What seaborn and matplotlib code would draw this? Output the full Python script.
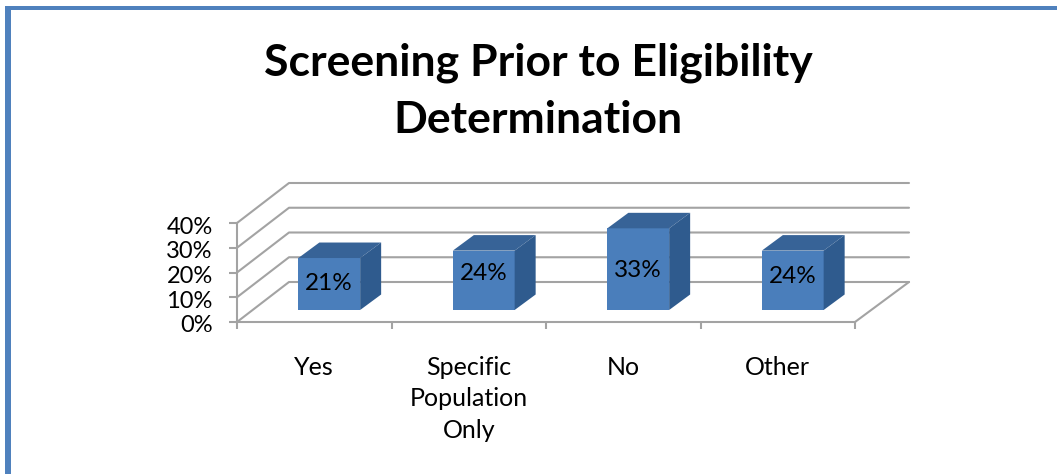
import matplotlib
matplotlib.use('Agg')
import matplotlib.pyplot as plt
import pandas as pd
import seaborn as sns
from matplotlib.patches import Polygon, Rectangle
from matplotlib.transforms import ScaledTranslation

# data
categories = ['Yes', 'Specific\nPopulation\nOnly', 'No', 'Other']
values = [21, 24, 33, 24]
value_labels = ['21%', '24%', '33%', '24%']
y_ticks = [0, 10, 20, 30, 40]

W, H = 1057, 474
sns.set_style('white')
plt.rcParams['font.family'] = ['Lato', 'DejaVu Sans']

df = pd.DataFrame({'category': categories, 'value': values})

fig = plt.figure(figsize=(W / 100, H / 100), dpi=100, facecolor='white')
ax = fig.add_axes([237 / W, 1 - 322 / H, 618 / W, 99 / H])
ax.patch.set_alpha(0)

sns.barplot(data=df, x='category', y='value', color='#4a7ebb', saturation=1,
            width=0.4, linewidth=0, ax=ax, zorder=3)
ax.set_xlim(-0.5, 3.5)
ax.set_ylim(0, 40)

# pixels to data units
px_x = 4 / 618
px_y = 40 / 99
wall_dx, wall_dy = 52 * px_x, 40 * px_y
right_end = 3.5 + 54 * px_x
bar_dx, bar_dy = 21 * px_x, 15.5 * px_y
shift_x, shift_y = 15 * px_x, 12 * px_y

grid_col = '#a3a3a3'
for v in y_ticks:
    ax.plot([-0.5, -0.5 + wall_dx, right_end], [v, v + wall_dy, v + wall_dy],
            color=grid_col, lw=1.5, clip_on=False, zorder=1)
# right edge of the floor
ax.plot([3.5, right_end], [0, wall_dy], color=grid_col, lw=1.5, clip_on=False, zorder=1)

# move the front faces into the floor and add top + side
for patch in ax.patches:
    patch.set_x(patch.get_x() + shift_x)
    patch.set_y(patch.get_y() + shift_y)
    x0, y0 = patch.get_x(), patch.get_y()
    x1, y1 = x0 + patch.get_width(), y0 + patch.get_height()
    ax.add_patch(Polygon([(x0, y1), (x1, y1), (x1 + bar_dx, y1 + bar_dy), (x0 + bar_dx, y1 + bar_dy)],
                         facecolor='#376397', edgecolor='none', clip_on=False, zorder=3))
    ax.add_patch(Polygon([(x1, y0), (x1 + bar_dx, y0 + bar_dy), (x1 + bar_dx, y1 + bar_dy), (x1, y1)],
                         facecolor='#2f5b8e', edgecolor='none', clip_on=False, zorder=3))

# labels sit a bit unevenly in the original
label_nudge = [2, 8, 0, 5]
for patch, lab, nudge in zip(list(ax.patches)[:4], value_labels, label_nudge):
    ax.text(patch.get_x() + patch.get_width() / 2,
            patch.get_y() + patch.get_height() / 2 + nudge * px_y - 1 * px_y, lab,
            ha='center', va='center', fontsize=17.5, color='black', zorder=5)

# axes
sns.despine(ax=ax, top=True, right=True)
for side in ['left', 'bottom']:
    ax.spines[side].set_color(grid_col)
    ax.spines[side].set_linewidth(1.5)
    ax.spines[side].set_zorder(2)

ax.set_yticks(y_ticks)
ax.set_yticklabels([f'{v}%' for v in y_ticks], fontsize=17, color='black')
ax.tick_params(axis='y', length=5.5, width=1.5, color=grid_col, pad=12, left=True)
# tick labels sit 2px lower than the ticks
down = ScaledTranslation(0, -2 / 100, fig.dpi_scale_trans)
for label in ax.get_yticklabels():
    label.set_transform(label.get_transform() + down)
ax.set_xticks(range(len(categories)))
ax.set_xticklabels(categories, fontsize=18, color='black', linespacing=1.44)
ax.set_xticks([-0.5, 0.5, 1.5, 2.5, 3.5], minor=True)
ax.tick_params(axis='x', which='major', length=0, pad=24.5)
ax.tick_params(axis='x', which='minor', length=5, width=1.5, color=grid_col, bottom=True)
ax.set_xlabel('')
ax.set_ylabel('')

fig.text(538 / W, 1 - 91 / H, 'Screening Prior to Eligibility\nDetermination',
         ha='center', va='center', fontsize=32, fontweight='bold', color='black', linespacing=1.525)

# blue frame, left and top only
frame_col = '#4f81bd'
fig.patches.append(Rectangle((5 / W, 0), 6 / W, 1 - 6 / H, transform=fig.transFigure, facecolor=frame_col, edgecolor='none'))
fig.patches.append(Rectangle((5 / W, 1 - 10 / H), 1 - 5 / W, 4 / H, transform=fig.transFigure, facecolor=frame_col, edgecolor='none'))

fig.savefig('out.png', dpi=100)
